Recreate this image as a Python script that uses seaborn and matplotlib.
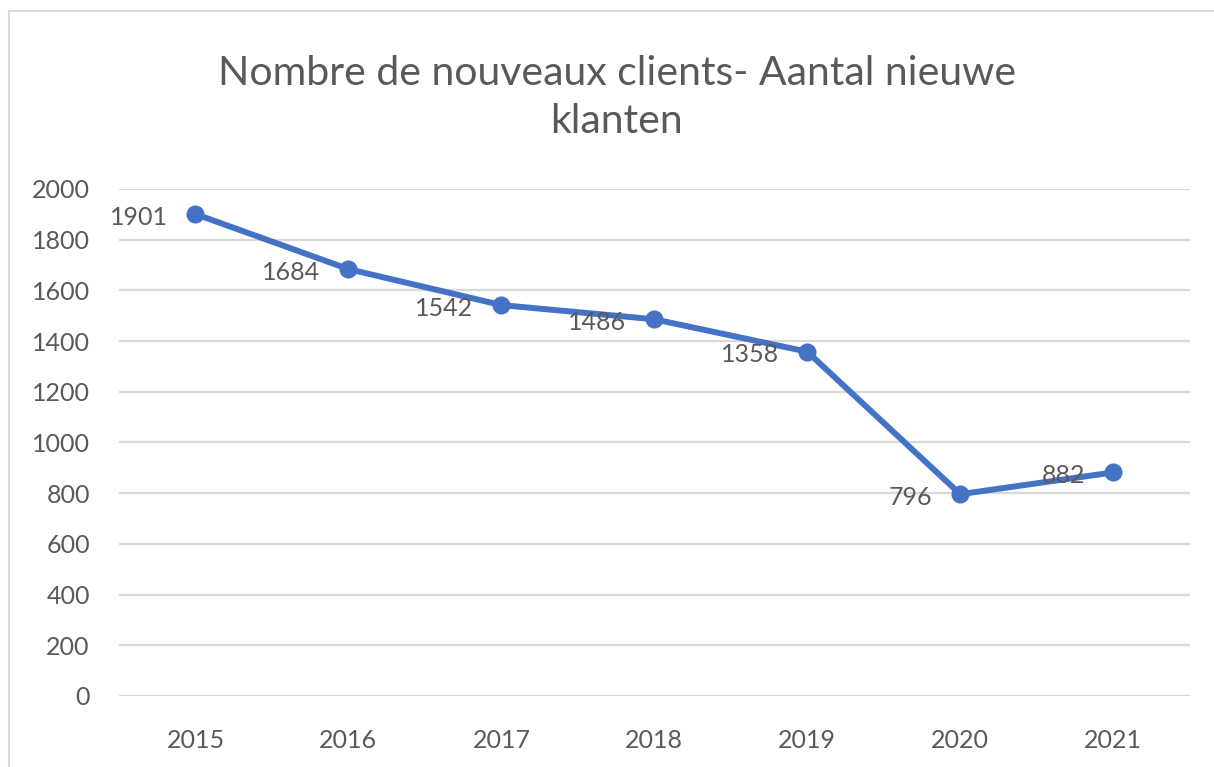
import matplotlib
matplotlib.use("Agg")
import matplotlib.pyplot as plt
from matplotlib.lines import Line2D
import pandas as pd
import seaborn as sns

# chart data
years = ["2015", "2016", "2017", "2018", "2019", "2020", "2021"]
new_clients = [1901, 1684, 1542, 1486, 1358, 796, 882]
y_ticks = [0, 200, 400, 600, 800, 1000, 1200, 1400, 1600, 1800, 2000]
title = "Nombre de nouveaux clients- Aantal nieuwe\nklanten"

BLUE = "#4472C4"
TEXT = "#595959"
GRID = "#D9D9D9"

sns.set_theme(style="white")
plt.rcParams["font.family"] = ["Lato", "DejaVu Sans"]

df = pd.DataFrame({"year": years, "clients": new_clients})

fig = plt.figure(figsize=(12.14, 7.67), dpi=100)
ax = fig.add_axes([0.098, 0.0926, 0.882, 0.661])

sns.lineplot(data=df, x="year", y="clients", ax=ax, color=BLUE, linewidth=4.3,
             marker="o", markersize=13, markeredgewidth=0, sort=False)

ax.set_xlim(-0.5, len(years) - 0.5)
ax.set_ylim(0, 2000)
ax.set_yticks(y_ticks)
ax.yaxis.grid(True, color=GRID, linewidth=1.6)
ax.xaxis.grid(False)
for s in ax.spines.values():
    s.set_visible(False)
ax.tick_params(axis="both", length=0, labelsize=18, labelcolor=TEXT)
ax.tick_params(axis="y", pad=21)
ax.tick_params(axis="x", pad=24)
ax.set_xlabel("")
ax.set_ylabel("")

# data labels, to the left of each point
for i, v in enumerate(new_clients):
    ax.annotate(str(v), (i, v), xytext=(-28, -3), textcoords="offset pixels",
                ha="right", va="center", fontsize=18, color=TEXT)

fig.text(0.508, 0.873, title, ha="center", va="center", fontsize=29.5,
         color=TEXT, linespacing=1.35)

# chart frame (top and left edges visible)
fig.add_artist(Line2D([9 / 1214, 1], [1 - 11 / 767, 1 - 11 / 767],
                      transform=fig.transFigure, color=GRID, linewidth=1.5))
fig.add_artist(Line2D([9 / 1214, 9 / 1214], [0, 1 - 11 / 767],
                      transform=fig.transFigure, color=GRID, linewidth=1.5))

fig.savefig("out.png", dpi=100, facecolor="white")
